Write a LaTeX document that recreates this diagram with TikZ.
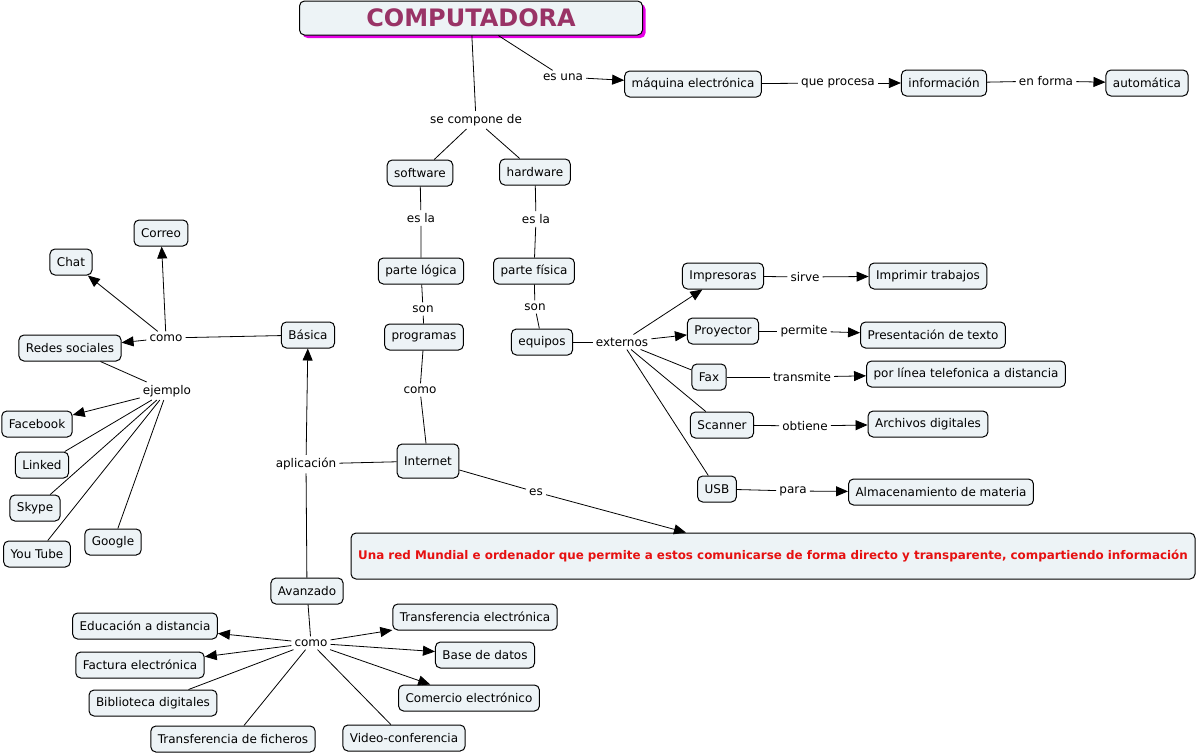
\documentclass[tikz,border=0pt]{standalone}
\usepackage{fontspec}
\setmainfont{DejaVu Sans}
\usetikzlibrary{arrows.meta}
\usetikzlibrary{shadows}
\definecolor{cmapfill}{RGB}{237,243,246}
\definecolor{titlecolor}{RGB}{153,51,102}
\definecolor{shadowpink}{RGB}{230,0,230}
\definecolor{notered}{RGB}{230,16,16}
\tikzset{
  concept/.style={draw, rounded corners=5pt, fill=cmapfill, line width=1pt,
    minimum height=26pt, inner xsep=7pt, font=\fontsize{12}{14}\selectfont},
  phrase/.style={inner sep=3pt, font=\fontsize{12}{14}\selectfont},
  link/.style={line width=0.8pt},
  linkto/.style={link, -{Triangle[length=12pt,width=10pt]}},
  maintitle/.style={concept, minimum width=343pt, minimum height=34pt,
    drop shadow={fill=shadowpink, opacity=1, shadow xshift=3pt, shadow yshift=-3pt},
    text=titlecolor, font=\fontsize{24}{28}\selectfont\bfseries}
}

\begin{document}
\begin{tikzpicture}[x=1pt,y=-1pt]
\useasboundingbox (0,0) rectangle (1198,755);
\node[maintitle] (comp) at (471,18) {COMPUTADORA};
\node[concept] (maquina) at (693,84) {máquina electrónica};
\node[concept] (info) at (944,83) {información};
\node[concept] (auto) at (1147,83) {automática};
\node[phrase] (esuna) at (563,77) {es una};
\node[phrase] (procesa) at (838,83) {que procesa};
\node[phrase] (enforma) at (1046,81) {en forma};
\node[phrase] (compone) at (476,120) {se compone de};
\node[concept] (soft) at (420,173) {software};
\node[concept] (hard) at (535,172) {hardware};
\node[phrase] (esla1) at (421,218) {es la};
\node[phrase] (esla2) at (536,219) {es la};
\node[concept] (logica) at (421,271) {parte lógica};
\node[concept] (fisica) at (534,271) {parte física};
\node[phrase] (son1) at (423,309) {son};
\node[phrase] (son2) at (535,307) {son};
\node[concept] (prog) at (424,337) {programas};
\node[concept] (equipos) at (542,342) {equipos};
\node[phrase] (como1) at (420,390) {como};
\node[concept, minimum height=34pt] (internet) at (428,461) {Internet};
\node[phrase] (aplic) at (306,464) {aplicación};
\node[concept] (basica) at (308,335) {Básica};
\node[concept] (avanz) at (307,591) {Avanzado};
\node[phrase] (como2) at (166,338) {como};
\node[concept] (correo) at (161,233) {Correo};
\node[concept] (chat) at (71,262) {Chat};
\node[concept] (redes) at (70,348) {Redes sociales};
\node[phrase] (ejemplo) at (167,391) {ejemplo};
\node[concept] (facebook) at (37,424) {Facebook};
\node[concept] (linked) at (42,465) {Linked};
\node[concept] (skype) at (35,508) {Skype};
\node[concept] (youtube) at (37,554) {You Tube};
\node[concept] (google) at (113,542) {Google};
\node[phrase] (como3) at (311,643) {como};
\node[concept] (educ) at (145,626) {Educación a distancia};
\node[concept] (factura) at (140,665) {Factura electrónica};
\node[concept] (biblio) at (153,703) {Biblioteca digitales};
\node[concept] (fichero) at (233,739) {Transferencia de ficheros};
\node[concept] (video) at (404,738) {Video-conferencia};
\node[concept] (comercio) at (469,698) {Comercio electrónico};
\node[concept] (base) at (485,655) {Base de datos};
\node[concept] (transf) at (475,617) {Transferencia electrónica};
\node[phrase] (externos) at (622,342) {externos};
\node[concept] (impres) at (723,276) {Impresoras};
\node[concept] (proyec) at (723,331) {Proyector};
\node[concept] (fax) at (709,377) {Fax};
\node[concept] (scanner) at (722,425) {Scanner};
\node[concept] (usb) at (717,489) {USB};
\node[concept] (imprimir) at (928,276) {Imprimir trabajos};
\node[concept] (present) at (933,335) {Presentación de texto};
\node[concept] (linea) at (966,374) {por línea telefonica a distancia};
\node[concept] (archivos) at (928,424) {Archivos digitales};
\node[concept] (almacen) at (941,492) {Almacenamiento de materia};
\node[phrase] (sirve) at (805,277) {sirve};
\node[phrase] (permite) at (804,331) {permite};
\node[phrase] (transmite) at (802,377) {transmite};
\node[phrase] (obtiene) at (805,426) {obtiene};
\node[phrase] (para) at (793,491) {para};
\node[phrase] (es) at (536,492) {es};
\node[concept, minimum width=844pt, minimum height=46pt, text=notered,
  font=\fontsize{11.9}{14}\selectfont\bfseries] (redmundial) at (773,556)
  {Una red Mundial e ordenador que permite a estos comunicarse de forma directo y transparente, compartiendo información};
\draw[link] (comp) -- (esuna);
\draw[linkto] (esuna) -- (maquina);
\draw[link] (maquina) -- (procesa);
\draw[linkto] (procesa) -- (info);
\draw[link] (info) -- (enforma);
\draw[linkto] (enforma) -- (auto);
\draw[link] (comp) -- (compone);
\draw[link] (compone) -- (soft);
\draw[link] (compone) -- (hard);
\draw[link] (soft) -- (esla1) -- (logica);
\draw[link] (hard) -- (esla2) -- (fisica);
\draw[link] (logica) -- (son1) -- (prog);
\draw[link] (fisica) -- (son2) -- (equipos);
\draw[link] (prog) -- (como1) -- (internet);
\draw[link] (internet) -- (aplic);
\draw[linkto] (aplic) -- (basica);
\draw[link] (aplic) -- (avanz);
\draw[link] (basica) -- (como2);
\draw[linkto] (como2) -- (correo);
\draw[linkto] (como2) -- (chat);
\draw[linkto] (como2) -- (redes);
\draw[link] (redes) -- (ejemplo);
\draw[linkto] (ejemplo) -- (facebook);
\draw[link] (ejemplo) -- (linked);
\draw[link] (ejemplo) -- (skype);
\draw[link] (ejemplo) -- (youtube);
\draw[link] (ejemplo) -- (google);
\draw[link] (avanz) -- (como3);
\draw[linkto] (como3) -- (educ);
\draw[linkto] (como3) -- (factura);
\draw[link] (como3) -- (biblio);
\draw[link] (como3) -- (fichero);
\draw[link] (como3) -- (video);
\draw[linkto] (como3) -- (comercio);
\draw[linkto] (como3) -- (base);
\draw[linkto] (como3) -- (transf);
\draw[link] (equipos) -- (externos);
\draw[linkto] (externos) -- (impres);
\draw[linkto] (externos) -- (proyec);
\draw[link] (externos) -- (fax);
\draw[link] (externos) -- (scanner);
\draw[link] (externos) -- (usb);
\draw[link] (impres) -- (sirve);
\draw[linkto] (sirve) -- (imprimir);
\draw[link] (proyec) -- (permite);
\draw[linkto] (permite) -- (present);
\draw[link] (fax) -- (transmite);
\draw[linkto] (transmite) -- (linea);
\draw[link] (scanner) -- (obtiene);
\draw[linkto] (obtiene) -- (archivos);
\draw[link] (usb) -- (para);
\draw[linkto] (para) -- (almacen);
\draw[link] (internet) -- (es);
\draw[linkto] (es) -- (redmundial);
\end{tikzpicture}
\end{document}
